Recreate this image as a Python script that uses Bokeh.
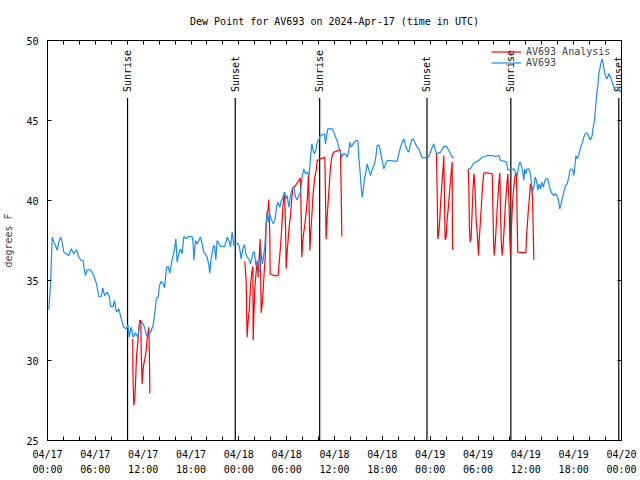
import numpy as np
from bokeh.plotting import figure
from bokeh.models import (ColumnDataSource, FixedTicker, DatetimeTickFormatter,
                          DatetimeAxis, LinearAxis, Range1d, Legend, LegendItem)
from bokeh.core.properties import value
from bokeh.embed import file_html
from bokeh.resources import INLINE

# ---------------- data (hours since 2024-04-17 00:00 UTC, degrees F) ----------------
START = "2024-04-17T00:00"

obs_hours = [
    0.17, 0.38, 0.59, 0.79, 1.00, 1.21, 1.42, 1.63, 1.84, 2.05, 2.68, 2.97, 3.30, 3.64, 3.93,
    4.22, 4.47, 4.64, 4.77, 4.98, 5.39, 5.81, 6.15, 6.44, 6.73, 6.94, 7.15, 7.48, 7.78, 7.90,
    8.24, 8.40, 8.65, 8.95, 9.16, 9.37, 9.57, 9.91, 10.08, 10.24, 10.49, 10.75, 11.04, 11.33,
    11.58, 11.87, 12.17, 12.42, 12.71, 12.92, 13.25, 13.42, 13.67, 13.88, 14.05, 14.26, 14.51,
    14.68, 14.93, 15.14, 15.34, 15.55, 15.76, 15.93, 16.10, 16.26, 16.47, 16.68, 16.89, 17.10,
    17.44, 17.64, 18.15, 18.27, 18.36, 18.56, 18.77, 18.98, 19.19, 19.40, 19.61, 20.03, 20.24,
    20.36, 20.53, 20.78, 20.95, 21.11, 21.28, 21.70, 22.24, 22.54, 22.83, 22.95, 23.16, 23.37,
    23.58, 23.87, 24.08, 24.21, 24.29, 24.50, 24.71, 24.88, 25.04, 25.25, 25.46, 25.67, 25.80,
    25.96, 26.13, 26.30, 26.47, 26.63, 26.80, 26.97, 27.14, 27.26, 27.39, 27.55, 27.72, 27.89,
    28.06, 28.31, 28.56, 28.72, 28.89, 29.14, 29.31, 29.56, 29.73, 29.90, 30.06, 30.27, 30.48,
    30.69, 30.90, 31.11, 31.32, 31.53, 31.73, 31.94, 32.15, 32.36, 32.57, 32.82, 32.99, 33.16,
    33.32, 33.49, 33.66, 33.83, 34.03, 34.24, 34.49, 34.74, 34.87, 34.99, 35.16, 35.50, 35.71,
    35.92, 36.13, 36.33, 36.54, 36.75, 36.88, 37.09, 37.38, 37.59, 37.80, 37.92, 38.09, 38.34,
    38.51, 38.68, 38.93, 39.05, 39.18, 39.35, 39.47, 39.60, 39.76, 39.93, 40.10, 40.31, 40.52,
    40.68, 40.85, 41.02, 41.18, 41.35, 41.60, 41.77, 41.98, 42.19, 42.40, 42.61, 43.02, 43.44,
    43.86, 44.07, 44.28, 44.49, 44.70, 44.91, 45.12, 45.32, 45.53, 45.74, 45.95, 46.16, 46.37,
    46.58, 46.79, 47.00, 47.42, 47.71, 47.96, 48.17, 48.46, 48.59, 48.80, 48.97, 49.30, 49.71,
    50.05, 50.34, 50.55, 50.76, 50.97, 51.90, 52.77, 53.06, 53.39, 53.69, 54.10, 54.52, 54.86,
    55.15, 55.78, 56.20, 56.62, 56.82, 57.24, 57.58, 57.74, 58.16, 58.49, 58.70, 58.91, 59.12,
    59.25, 59.41, 59.58, 59.75, 59.87, 60.00, 60.17, 60.38, 60.58, 60.71, 60.84, 61.00, 61.17,
    61.34, 61.51, 61.67, 61.84, 62.01, 62.18, 62.34, 62.51, 62.76, 62.93, 63.09, 63.30, 63.51,
    63.72, 63.93, 64.10, 64.26, 64.43, 64.60, 64.77, 64.98, 65.19, 65.39, 65.52, 65.69, 65.90,
    66.02, 66.15, 66.27, 66.44, 66.61, 66.78, 66.94, 67.11, 67.28, 67.49, 67.69, 67.90, 68.11,
    68.32, 68.45, 68.61, 68.74, 68.86, 69.03, 69.16, 69.28, 69.45, 69.58, 69.70, 69.87, 70.03,
    70.20, 70.41, 70.62, 70.83, 71.04, 71.25, 71.46, 71.63, 71.75, 71.88,
]
obs_dewpt = [
    33.17, 34.79, 37.71, 37.40, 37.19, 36.88, 37.40, 37.71, 37.40, 36.77, 36.56, 36.98, 36.67,
    36.92, 36.46, 36.25, 36.25, 35.63, 35.31, 35.67, 35.67, 35.31, 34.79, 34.00, 34.00, 34.54,
    34.06, 34.27, 33.96, 33.38, 33.38, 33.75, 33.02, 33.23, 32.81, 32.40, 32.08, 31.98, 32.25,
    31.46, 32.08, 31.46, 31.73, 31.46, 32.29, 32.40, 32.08, 31.56, 31.67, 31.77, 32.19, 32.81,
    33.92, 33.96, 34.69, 34.94, 34.79, 34.54, 35.83, 35.88, 35.46, 36.08, 36.56, 36.98, 37.60,
    36.15, 36.67, 36.98, 36.67, 37.75, 37.60, 37.75, 37.75, 37.29, 36.25, 37.50, 37.29, 37.50,
    37.71, 37.29, 36.77, 36.46, 35.94, 35.46, 36.35, 37.08, 37.19, 36.29, 37.50, 37.13, 37.13,
    37.71, 37.40, 37.08, 38.02, 37.19, 37.29, 37.33, 37.08, 36.67, 36.35, 36.98, 37.25, 36.67,
    36.46, 36.35, 36.04, 36.46, 36.77, 36.77, 35.94, 36.25, 35.42, 35.63, 36.77, 36.04, 36.67,
    37.08, 38.33, 39.27, 38.65, 39.17, 38.85, 38.54, 38.85, 39.58, 39.90, 39.58, 40.00, 40.21,
    40.52, 40.10, 40.31, 39.58, 40.31, 40.73, 40.83, 40.21, 40.04, 40.31, 40.52, 41.46, 41.98,
    41.67, 41.77, 41.56, 42.71, 43.54, 43.13, 42.92, 43.13, 43.65, 43.79, 44.06, 44.10, 44.17,
    43.54, 43.96, 44.48, 44.48, 44.48, 44.27, 43.96, 43.75, 43.33, 43.02, 42.67, 42.92, 42.92,
    42.71, 43.13, 43.65, 43.33, 43.54, 43.65, 43.75, 43.75, 42.71, 41.98, 40.83, 40.21, 40.63,
    41.35, 41.77, 42.29, 41.88, 41.56, 41.88, 42.08, 42.29, 42.71, 43.44, 43.44, 43.02, 42.50,
    41.98, 42.29, 42.50, 42.50, 42.46, 42.46, 42.92, 43.33, 43.65, 43.85, 43.44, 43.13, 43.02,
    43.54, 43.85, 43.79, 43.54, 43.33, 43.23, 42.92, 42.67, 42.67, 42.67, 42.92, 43.23, 43.54,
    43.23, 42.92, 42.96, 43.02, 43.38, 43.38, 43.13, 42.92, 42.71, 42.67, None, 41.98, 41.98,
    42.29, 42.40, 42.50, 42.71, 42.75, 42.81, 42.81, 42.75, 42.81, 42.50, 42.46, 42.40, 41.92,
    41.92, 41.98, 41.77, 41.56, 42.19, 42.40, 42.25, 41.88, 41.25, 41.98, 41.67, 41.98, 41.98,
    41.67, 41.04, 40.52, 40.83, 41.46, 41.25, 40.63, 41.04, 40.73, 41.15, 40.83, 41.15, 41.35,
    41.35, 40.94, 40.63, 40.42, 40.31, 40.42, 40.31, 40.00, 39.48, 39.79, 40.21, 40.52, 40.94,
    41.04, 41.46, 41.88, 41.98, 41.88, 41.56, 42.08, 42.81, 42.60, 42.81, 43.13, 43.44, 43.65,
    43.96, 44.21, 44.21, 43.96, 43.79, 44.06, 44.58, 45.00, 45.73, 46.46, 47.19, 47.92, 48.23,
    48.65, 48.85, 48.54, 48.02, 47.75, 47.60, 47.92, 47.71, 47.40, 47.08, 47.04, 47.08, 47.08,
    46.77, 46.92,
]

ana_hours = [
    10.70, 10.71, 10.83, 10.95, 11.04, 11.16, 11.33, 11.46, 11.58, 11.71, 11.75, 11.87, 11.96,
    12.08, 12.29, 12.42, 12.50, 12.63, 12.71, 12.79, 12.84, 18.00,
    24.75, 24.92, 25.00, 25.04, 25.17, 25.34, 25.46, 25.63, 25.76, 25.80, 25.88, 26.01, 26.17,
    26.30, 26.43, 26.55, 26.68, 26.80, 26.93, 27.06, 27.18, 27.31, 27.43, 27.55, 27.68, 27.76,
    27.89, 27.93, 28.39, 28.93, 29.10, 29.22, 29.35, 29.48, 29.60, 29.73, 29.85, 29.94, 30.06,
    30.19, 30.31, 30.48, 30.61, 30.77, 31.11, 31.73, 31.82, 31.90, 32.03, 32.15, 32.32, 32.49,
    32.61, 32.74, 32.82, 32.91, 33.03, 33.16, 33.32, 33.53, 33.70, 33.83, 34.24, 34.79, 34.87,
    34.95, 35.08, 35.21, 35.37, 35.50, 35.63, 35.75, 35.92, 36.54, 36.75, 36.84, 36.92, 42.00,
    48.79, 48.88, 48.96, 49.09, 49.21, 49.30, 49.42, 49.55, 49.63, 49.71, 49.80, 49.88, 50.01,
    50.13, 50.25, 50.38, 50.55, 50.68, 50.76, 50.80, 50.97, 51.90,
    52.77, 52.85, 52.93, 53.02, 53.14, 53.27, 53.39, 53.48, 53.56, 53.69, 53.77, 53.90, 53.98,
    54.06, 54.15, 54.27, 54.40, 54.52, 54.65, 54.73, 55.15, 55.78, 55.87, 55.95, 56.03, 56.16,
    56.29, 56.41, 56.54, 56.66, 56.74, 56.82, 56.91, 57.03, 57.16, 57.29, 57.41, 57.54, 57.66,
    57.74, 57.91, 57.99, 58.08, 58.16, 58.29, 58.41, 58.58, 58.70, 58.83, 58.91, 58.99, 60.00,
    60.08, 60.21, 60.33, 60.46, 60.58, 60.71, 60.84, 60.92, 61.00,
]
ana_dewpt = [
    31.35, 29.27, 27.19, 27.71, 28.54, 30.21, 31.15, 31.98, 32.50, 32.50, 30.63, 28.54, 29.27,
    29.79, 30.31, 30.83, 31.35, 31.77, 32.08, 30.04, 27.96, None,
    36.19, 35.00, 32.60, 31.46, 32.50, 33.33, 34.69, 35.52, 35.88, 31.25, 32.71, 34.58, 35.52,
    36.15, 35.21, 36.46, 37.60, 32.98, 33.54, 34.48, 35.52, 36.46, 38.44, 39.27, 39.48, 40.06,
    37.71, 35.42, 35.31, 35.31, 36.35, 37.08, 38.02, 39.17, 40.00, 40.52, 38.54, 35.73, 36.77,
    37.60, 38.33, 39.06, 39.90, 40.79, 40.94, 41.40, 38.96, 36.46, 37.50, 38.02, 38.65, 39.48,
    40.21, 41.67, 39.58, 36.88, 38.13, 39.06, 40.42, 41.46, 41.88, 42.50, 42.60, 42.71, 40.21,
    37.60, 38.96, 40.00, 41.15, 42.08, 42.60, 42.88, 43.02, 43.13, 43.13, 40.42, 37.75, None,
    42.92, 40.42, 37.60, 38.02, 38.85, 39.79, 40.63, 41.56, 42.08, 42.81, 40.00, 37.54, 37.71,
    38.85, 39.38, 40.21, 41.25, 41.98, 42.40, 36.98, 36.98, None,
    41.98, 40.83, 38.23, 37.40, 37.71, 39.38, 40.83, 41.67, 41.35, 40.00, 38.75, 37.96, 37.29,
    36.56, 37.50, 38.44, 39.48, 40.52, 41.35, 41.73, 41.73, 41.67, 39.58, 37.50, 36.56, 37.29,
    38.44, 39.48, 40.52, 41.35, 41.73, 39.58, 37.50, 36.56, 37.29, 38.33, 39.48, 40.42, 41.25,
    41.67, 39.58, 37.50, 36.56, 37.92, 39.38, 40.42, 41.25, 41.67, 41.67, 38.75, 36.77, 36.73,
    37.71, 38.65, 39.48, 40.21, 41.04, 40.83, 40.21, 38.33, 36.29,
]

sun_hours = [10.04, 23.55, 34.14, 47.60, 58.12, 71.66]
sun_labels = ["Sunrise", "Sunset", "Sunrise", "Sunset", "Sunrise", "Sunset"]

tick_hours = list(range(0, 73, 6))
minor_tick_hours = list(range(0, 73, 2))
y_ticks = [25, 30, 35, 40, 45, 50]

# ---------------- helpers ----------------
base = np.datetime64(START, "ms")
epoch = np.datetime64("1970-01-01T00:00", "ms")


def to_time(hours):
    ms = np.round(np.asarray(hours, dtype=float) * 3600000).astype("int64")
    return base + ms.astype("timedelta64[ms]")


def to_ms(hours):
    return [float(x) for x in (to_time(hours) - epoch).astype("int64")]


obs = ColumnDataSource(dict(t=to_time(obs_hours), v=np.array(obs_dewpt, dtype=float)))
ana = ColumnDataSource(dict(t=to_time(ana_hours), v=np.array(ana_dewpt, dtype=float)))

FONT = "DejaVu Sans Mono"
FS = "10px"
BLUE = "#1a8cff"
RED = "#ff0000"
MARK_TOP = 46.4  # top end of the sunrise/sunset marker lines
TICK = 4

p = figure(width=640, height=480, x_axis_type="datetime",
           x_range=Range1d(to_time([0])[0], to_time([72])[0]),
           y_range=Range1d(25, 50),
           output_backend="svg", toolbar_location=None,
           min_border_left=47, min_border_right=19, min_border_top=40, min_border_bottom=40,
           title="Dew Point for AV693 on 2024-Apr-17 (time in UTC)")

p.title.align = "center"
p.title.vertical_align = "middle"
p.title.text_font = FONT
p.title.text_font_size = FS
p.title.text_font_style = "normal"
p.title.text_color = "black"
p.title.standoff = 26

p.grid.visible = False
p.outline_line_color = "black"
p.outline_line_width = 1
p.background_fill_color = "white"
p.border_fill_color = "white"

xticker = FixedTicker(ticks=to_ms(tick_hours), minor_ticks=to_ms(minor_tick_hours))
fmt = "%m/%d\n%H:%M"
xfmt = DatetimeTickFormatter(microseconds=fmt, milliseconds=fmt, seconds=fmt, minsec=fmt,
                             minutes=fmt, hourmin=fmt, hours=fmt, days=fmt, months=fmt, years=fmt)
yticker = FixedTicker(ticks=y_ticks, minor_ticks=[])

xa = p.xaxis[0]
xa.ticker = xticker
xa.formatter = xfmt
ya = p.yaxis[0]
ya.ticker = yticker
ya.axis_label = "degrees F"

for ax in (xa, ya):
    ax.axis_line_color = None
    ax.major_tick_in = TICK
    ax.major_tick_out = 0
    ax.minor_tick_in = TICK
    ax.minor_tick_out = 0
    ax.major_tick_line_color = "black"
    ax.minor_tick_line_color = "black"
    ax.major_label_text_font = FONT
    ax.major_label_text_font_size = FS
    ax.major_label_text_color = "black"
    ax.axis_label_text_font = FONT
    ax.axis_label_text_font_size = FS
    ax.axis_label_text_font_style = "normal"

xa.major_label_standoff = 8
xa.major_label_text_line_height = 1.4
ya.major_label_standoff = 9
ya.axis_label_standoff = 9

# mirrored ticks on the top and right edges (tick marks only, no labels)
top = DatetimeAxis(ticker=FixedTicker(ticks=[], minor_ticks=to_ms(minor_tick_hours)))
right = LinearAxis(ticker=FixedTicker(ticks=[], minor_ticks=y_ticks))
for ax in (top, right):
    ax.axis_line_color = None
    ax.major_tick_in = 0
    ax.major_tick_out = 0
    ax.minor_tick_in = TICK
    ax.minor_tick_out = 0
    ax.minor_tick_line_color = "black"
    ax.major_label_standoff = 0
p.add_layout(top, "above")
p.add_layout(right, "right")

# sunrise / sunset markers
sun = ColumnDataSource(dict(t=to_time(sun_hours), lab=sun_labels,
                            y0=[25] * len(sun_hours), y1=[MARK_TOP] * len(sun_hours)))
p.segment(x0="t", y0="y0", x1="t", y1="y1", source=sun, line_color="black", line_width=1.2)
p.text(x="t", y="y1", text="lab", source=sun, angle=np.pi / 2, text_align="left",
       text_baseline="middle", y_offset=-6, text_font=value(FONT), text_font_size=FS,
       text_color="black")

r_ana = p.line("t", "v", source=ana, line_color=RED, line_width=1.2)
r_obs = p.line("t", "v", source=obs, line_color=BLUE, line_width=1.2)

legend = Legend(items=[LegendItem(label="AV693 Analysis", renderers=[r_ana]),
                       LegendItem(label="AV693", renderers=[r_obs])],
                location=(442, 370))
legend.background_fill_alpha = 0
legend.border_line_alpha = 0
legend.label_text_font = FONT
legend.label_text_font_size = FS
legend.glyph_width = 30
legend.glyph_height = 11
legend.label_height = 11
legend.spacing = 0
legend.padding = 2
legend.margin = 0
p.add_layout(legend)

open("out.html", "w").write(file_html(p, INLINE))
